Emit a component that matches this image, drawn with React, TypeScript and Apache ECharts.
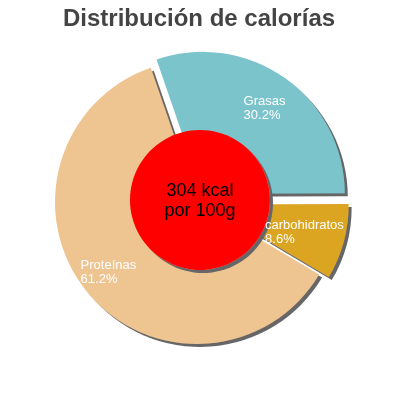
import { useEffect, useRef } from 'react'
import * as echarts from 'echarts'

const title = 'Distribución de calorías'
const categories = ['Grasas', 'carbohidratos', 'Proteínas']
const percents = [30.2, 8.6, 61.2]
const exploded = [true, true, false]
const centerLines = ['304 kcal', 'por 100g']

const colors = ['#7bc4cc', '#dba523', '#eec591']
// label nudges (dx, dy) from the default inside anchor
const labelShift = [[-2, -26], [-13, 7], [-59, 23]]

const FONT = 'Liberation Sans, Arial, sans-serif'

export default function App() {
  const ref = useRef<HTMLDivElement>(null)

  useEffect(() => {
    if (!ref.current) return
    const chart = echarts.init(ref.current, null, { renderer: 'svg' })
    const pieCenter = [197, 202]
    const pieRadius = 142
    const slices = categories.map((name, i) => ({ name, value: percents[i], selected: exploded[i] }))

    chart.setOption({
      animation: false,
      title: {
        text: title, left: 58, top: 0,
        textStyle: { fontSize: 24, fontWeight: 'bold', color: '#444', fontFamily: FONT },
      },
      series: [
        {
          type: 'pie', z: 2, center: pieCenter, radius: pieRadius, startAngle: 109, clockwise: true,
          selectedMode: 'multiple', selectedOffset: 10, silent: true,
          data: slices.map((s, i) => ({ ...s, itemStyle: { color: colors[i] } })),
          itemStyle: { shadowColor: '#666', shadowOffsetX: 3, shadowOffsetY: 3, shadowBlur: 0 },
          label: { show: false }, labelLine: { show: false },
          emphasis: { disabled: true },
        },
        {
          type: 'pie', z: 3, center: [200, 200], radius: 70, silent: true,
          data: [{ name: 'kcal', value: 1 }],
          itemStyle: { color: '#ff0000', shadowColor: '#666', shadowOffsetX: 3, shadowOffsetY: 3, shadowBlur: 0 },
          label: {
            show: true, position: 'center', formatter: centerLines.join('\n'),
            fontSize: 18, lineHeight: 20, color: '#000', fontFamily: FONT,
          },
          labelLine: { show: false },
          emphasis: { disabled: true },
        },
        {
          type: 'pie', z: 4, center: pieCenter, radius: pieRadius, startAngle: 109, clockwise: true,
          selectedMode: 'multiple', selectedOffset: 10, silent: true,
          data: slices,
          itemStyle: { color: 'rgba(0,0,0,0)' },
          label: {
            show: true, position: 'inside', formatter: (p: any) => p.name + '\n' + p.value + '%',
            fontSize: 13, lineHeight: 14, color: '#fff', fontFamily: FONT,
          },
          labelLayout: (p: any) => ({
            align: 'left', verticalAlign: 'middle',
            dx: labelShift[p.dataIndex][0], dy: labelShift[p.dataIndex][1],
          }),
          labelLine: { show: false },
          emphasis: { disabled: true },
        },
      ],
    })
    return () => chart.dispose()
  }, [])

  return <div ref={ref} style={{ position: 'fixed', left: 0, top: 0, width: 400, height: 400 }} />
}
